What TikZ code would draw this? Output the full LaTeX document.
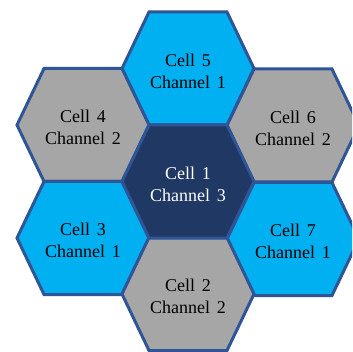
\documentclass[tikz,border=0pt]{standalone}
\usepackage{fontspec}
\setmainfont{Liberation Serif}[WordSpace=1.5]
\definecolor{cellcyan}{HTML}{00B0F0}
\definecolor{cellgray}{HTML}{A6A6A6}
\definecolor{cellnavy}{HTML}{203864}
\definecolor{cellborder}{HTML}{2F5597}
\tikzset{
  hexborder/.style={draw=cellborder, line width=3pt, line join=miter},
  celltext/.style={align=center, font=\fontsize{18}{22}\selectfont, inner sep=0pt},
}
\newcommand\hexcell[6]{%
  \path[hexborder, fill=#4] (#2-66,#3) -- (#2-39,#3-56.5) -- (#2+39,#3-56.5) -- (#2+66,#3) -- (#2+39,#3+56.5) -- (#2-39,#3+56.5) -- cycle;
  \node[celltext, text=#6] (#1) at (#2,#3+2.5) {#5};
}
\begin{document}
\begin{tikzpicture}[x=1pt,y=-1pt]
\useasboundingbox (0,0) rectangle (352,352);
\clip (0,0) rectangle (352,352);
\fill[white] (0,0) rectangle (352,352);
\hexcell{c5}{188}{68.5}{cellcyan}{Cell 5\\Channel 1}{black}
\hexcell{c4}{83}{125}{cellgray}{Cell 4\\Channel 2}{black}
\hexcell{c6}{293}{125.5}{cellgray}{Cell 6\\Channel 2}{black}
\hexcell{c3}{83}{238}{cellcyan}{Cell 3\\Channel 1}{black}
\hexcell{c7}{293}{239}{cellcyan}{Cell 7\\Channel 1}{black}
\hexcell{c2}{188}{294}{cellgray}{Cell 2\\Channel 2}{black}
\hexcell{c1}{188}{181.5}{cellnavy}{Cell 1\\Channel 3}{white}
\end{tikzpicture}
\end{document}
